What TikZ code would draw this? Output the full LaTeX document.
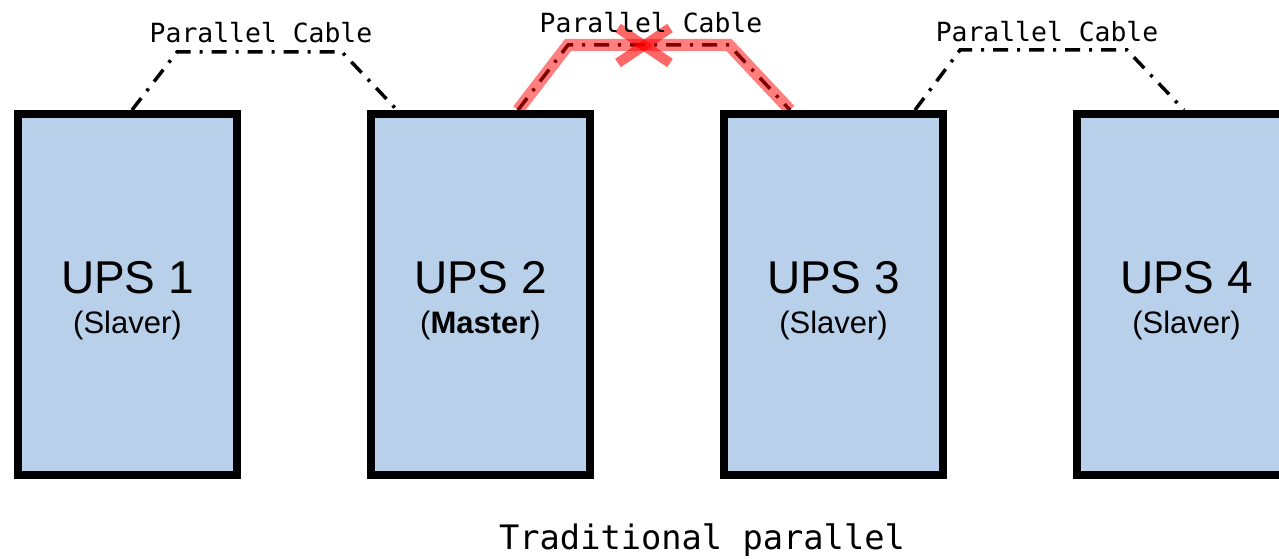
\documentclass[tikz,border=0pt]{standalone}
\usepackage{fontspec}
\setmainfont{Liberation Sans}
\newfontfamily\labelmono{DejaVu Sans Mono}
\usetikzlibrary{calc}
\definecolor{boxfill}{RGB}{185,208,234}
\tikzset{
  upsbox/.style={draw=black, fill=boxfill, line width=8pt, minimum width=219pt, minimum height=361pt, inner sep=0pt},
  upsname/.style={font=\fontsize{46}{50}\selectfont, anchor=base, inner sep=0pt},
  upsrole/.style={font=\fontsize{31}{34}\selectfont, anchor=base, inner sep=0pt},
  cablelabel/.style={font=\labelmono\fontsize{26.4}{30}\selectfont, anchor=base, inner sep=0pt},
  cable/.style={line width=3.5pt, dash pattern=on 15pt off 9pt on 3pt off 9pt},
  redmark/.style={red, opacity=0.5, line width=12pt},
  redcross/.style={red, opacity=0.6, line width=10pt}
}
\begin{document}
\begin{tikzpicture}[x=1pt,y=-1pt]
\useasboundingbox (0,0) rectangle (1279,559);
\clip (0,0) rectangle (1279,559);
% box positions (centers)
\coordinate (c1) at (127.5,294.5);
\coordinate (c2) at (480.5,294.5);
\coordinate (c3) at (833.5,294.5);
\coordinate (c4) at (1186.5,294.5);
% invisible placeholders to get anchors before drawing cables
\node[upsbox, draw=none, fill=none] (b1) at (c1) {};
\node[upsbox, draw=none, fill=none] (b2) at (c2) {};
\node[upsbox, draw=none, fill=none] (b3) at (c3) {};
\node[upsbox, draw=none, fill=none] (b4) at (c4) {};
% cable corner points
\coordinate (k1a) at (177,52);
\coordinate (k1b) at (342,52);
\coordinate (k2a) at (568,45);
\coordinate (k2b) at (729,45);
\coordinate (k3a) at (960,50);
\coordinate (k3b) at (1127,50);
% cables
\draw[cable] ($(b1.north)+(4.5,0)$) -- (k1a) -- (k1b) -- ($(b2.north west)+(30,0)$);
\draw[cable] ($(b2.north east)+(-76,0)$) -- (k2a) -- (k2b) -- ($(b3.north west)+(70,0)$);
\draw[redmark] ($(b2.north east)+(-76,0)$) -- (k2a) -- (k2b) -- ($(b3.north west)+(70,0)$);
\draw[cable] ($(b3.north east)+(-32,0)$) -- (k3a) -- (k3b) -- ($(b4.north west)+(111,0)$);
% cross
\coordinate (xc) at (644,45.5);
\draw[redcross] ($(xc)+(-26,-17.5)$) -- ($(xc)+(26,17.5)$);
\draw[redcross] ($(xc)+(-26,17.5)$) -- ($(xc)+(26,-17.5)$);
% boxes
\node[upsbox] (B1) at (c1) {};
\node[upsbox] (B2) at (c2) {};
\node[upsbox] (B3) at (c3) {};
\node[upsbox] (B4) at (c4) {};
% texts
\node[upsname] (n1) at ($(c1)+(0,-1.5)$) {UPS 1};
\node[upsrole] (r1) at ($(c1)+(0,38.5)$) {(Slaver)};
\node[upsname] (n2) at ($(c2)+(0,-1.5)$) {UPS 2};
\node[upsrole] (r2) at ($(c2)+(0,38.5)$) {(\textbf{Master})};
\node[upsname] (n3) at ($(c3)+(0,-1.5)$) {UPS 3};
\node[upsrole] (r3) at ($(c3)+(0,38.5)$) {(Slaver)};
\node[upsname] (n4) at ($(c4)+(0,-1.5)$) {UPS 4};
\node[upsrole] (r4) at ($(c4)+(0,38.5)$) {(Slaver)};
% labels
\node[cablelabel] (l1) at (261,43) {Parallel Cable};
\node[cablelabel] (l2) at (651,33) {Parallel Cable};
\node[cablelabel] (l3) at (1047,42) {Parallel Cable};
\node[cablelabel, font=\labelmono\fontsize{33.7}{38}\selectfont] (title) at (702,549) {Traditional parallel};
\end{tikzpicture}
\end{document}
